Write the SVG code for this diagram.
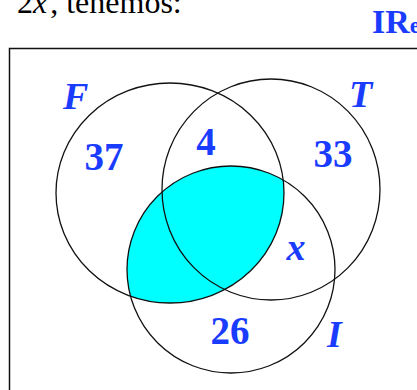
<svg xmlns="http://www.w3.org/2000/svg" width="417" height="390" viewBox="0 0 417 390">
  <style>
    .head { font-family: "Liberation Serif", "Times New Roman", serif; font-size: 32px; fill: #000; }
    .logo { font-family: "Liberation Serif", "Times New Roman", serif; font-size: 34px; font-weight: bold; fill: #1a3cff; }
    .num { font-family: "Liberation Serif", "Times New Roman", serif; font-size: 39px; font-weight: bold; fill: #1a3cff; }
    .lab { font-family: "Liberation Serif", "Times New Roman", serif; font-size: 38px; font-weight: bold; font-style: italic; fill: #1a3cff; }
    .set { fill: none; stroke: #111; stroke-width: 1.3; }
  </style>
  <defs>
    <clipPath id="clipF">
      <ellipse cx="170" cy="193" rx="114" ry="110"/>
    </clipPath>
  </defs>
  <rect width="417" height="390" fill="#fff"/>
  <text class="head" x="17" y="12.5">2<tspan font-style="italic">x</tspan><tspan dx="3">, tenemos:</tspan></text>
  <text class="logo" x="372" y="33">IR<tspan font-size="24">e</tspan></text>
  <path d="M9.5 420 V48.5 H430" fill="none" stroke="#111" stroke-width="1.5"/>
  <g id="shading">
    <ellipse cx="231" cy="269.5" rx="104" ry="103.5" fill="#00ffff" clip-path="url(#clipF)"/>
  </g>
  <g id="F">
    <ellipse class="set" cx="170" cy="193" rx="114" ry="110"/>
    <text class="lab" x="63" y="109">F</text>
  </g>
  <g id="T">
    <ellipse class="set" cx="271" cy="189.5" rx="109" ry="110.5"/>
    <text class="lab" x="349" y="107">T</text>
  </g>
  <g id="I">
    <ellipse class="set" cx="231" cy="269.5" rx="104" ry="103.5"/>
    <text class="lab" x="327" y="347">I</text>
  </g>
  <g id="regions">
    <text class="num" x="104" y="170" text-anchor="middle">37</text>
    <text class="num" x="206" y="155" text-anchor="middle">4</text>
    <text class="num" x="333" y="167" text-anchor="middle">33</text>
    <text class="lab" x="296" y="260" text-anchor="middle">x</text>
    <text class="num" x="230" y="344" text-anchor="middle">26</text>
  </g>
</svg>
